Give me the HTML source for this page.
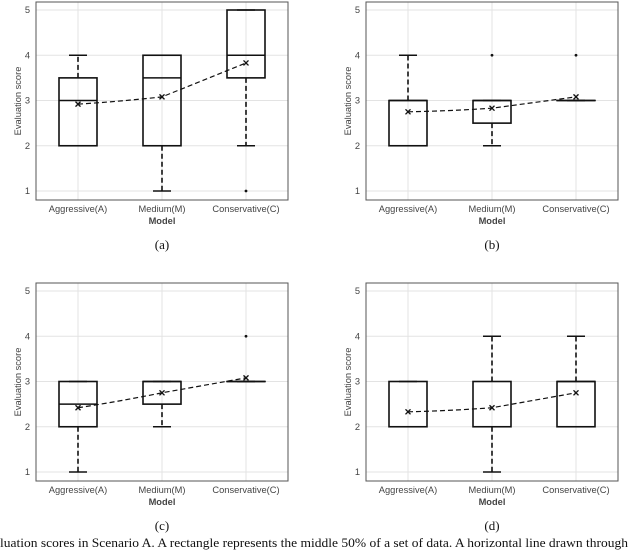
<!DOCTYPE html>
<html><head><meta charset="utf-8"><style>
html,body{margin:0;padding:0;background:#fff;width:640px;height:552px;overflow:hidden}
svg{display:block}
.t{font-family:"Liberation Sans",sans-serif;font-size:9.3px;fill:#444}
.cap{font-family:"Liberation Serif",serif;font-size:13px;fill:#111}
</style></head><body>
<svg id="fig" width="640" height="552"></svg>
<script>
const categories=["Aggressive(A)","Medium(M)","Conservative(C)"];
const yTicks=[1,2,3,4,5];
const captions=["(a)","(b)","(c)","(d)"];
// per panel: [lowWhisker, q1, median, q3, highWhisker] per category
const boxesA=[[2,2,3,3.5,4],[1,2,3.5,4,4],[2,3.5,4,5,5]];
const boxesB=[[2,2,3,3,4],[2,2.5,3,3,3],[3,3,3,3,3]];
const boxesC=[[1,2,2.5,3,3],[2,2.5,3,3,3],[3,3,3,3,3]];
const boxesD=[[2,2,2,3,3],[1,2,2,3,4],[2,2,3,3,4]];
const outliersA=[[],[],[1]];
const outliersB=[[],[4],[4]];
const outliersC=[[],[],[4]];
const outliersD=[[],[],[]];
const meansA=[2.92,3.08,3.83];
const meansB=[2.75,2.83,3.08];
const meansC=[2.42,2.75,3.08];
const meansD=[2.33,2.42,2.75];
const panels=[[boxesA,outliersA,meansA],[boxesB,outliersB,meansB],[boxesC,outliersC,meansC],[boxesD,outliersD,meansD]];

const NS="http://www.w3.org/2000/svg";
const svg=document.getElementById('fig');
function mk(tag,attrs,parent){const e=document.createElementNS(NS,tag);for(const k in attrs)e.setAttribute(k,attrs[k]);(parent||svg).appendChild(e);return e;}

panels.forEach((p,pi)=>{
  const ox=(pi%2)*330, oy=Math.floor(pi/2)*281;
  const L=36+ox, R=288+ox, y5=10+oy, y1=191+oy, T=y5-8, B=y1+9;
  const ys=v=>y1-(v-1)*(y1-y5)/4;
  const xs=i=>L+42+i*84;
  const g=mk('g',{});
  
  
  yTicks.forEach(v=>{
    const l=mk('line',{x1:L,x2:R,y1:ys(v),y2:ys(v),stroke:'#e3e3e3','stroke-width':1},g);
    
    const t=mk('text',{x:L-6,y:ys(v)+3,'text-anchor':'end',class:'t'},g);t.textContent=v;
    
  });
  categories.forEach((c,i)=>{
    const l=mk('line',{x1:xs(i),x2:xs(i),y1:T,y2:B,stroke:'#e3e3e3','stroke-width':1},g);
    
    const t=mk('text',{x:xs(i),y:B+12,'text-anchor':'middle',class:'t'},g);t.textContent=c;
    
  });
  const fr=mk('rect',{x:L,y:T,width:R-L,height:B-T,fill:'none',stroke:'#555','stroke-width':1},g);
  
  const yl=mk('text',{x:0,y:0,'text-anchor':'middle',class:'t',transform:`translate(${L-15},${(T+B)/2}) rotate(-90)`},g);
  yl.textContent='Evaluation score';
  const xl=mk('text',{x:(L+R)/2,y:B+24,'text-anchor':'middle',class:'t','font-weight':'bold',fill:'#333'},g);
  xl.textContent='Model';
  const cp=mk('text',{x:(L+R)/2,y:B+49,'text-anchor':'middle',class:'cap'},g);
  cp.textContent=captions[pi];
  const [bx,outs,means]=p;
  bx.forEach((b,i)=>{
    const x=xs(i);
    const [lw,q1,md,q3,hw]=b;
    const bg=mk('g',{stroke:'#111','stroke-width':1.6,fill:'none'},g);
    
    if(hw>q3){mk('line',{x1:x,x2:x,y1:ys(q3),y2:ys(hw),'stroke-dasharray':'5,3'},bg);}
    if(lw<q1){mk('line',{x1:x,x2:x,y1:ys(q1),y2:ys(lw),'stroke-dasharray':'5,3'},bg);}
    mk('line',{x1:x-9,x2:x+9,y1:ys(hw),y2:ys(hw)},bg);
    mk('line',{x1:x-9,x2:x+9,y1:ys(lw),y2:ys(lw)},bg);
    mk('rect',{x:x-19,y:ys(q3),width:38,height:Math.max(0.01,ys(q1)-ys(q3))},bg);
    mk('line',{x1:x-19,x2:x+19,y1:ys(md),y2:ys(md)},bg);
    outs[i].forEach(o=>{
      const c=mk('circle',{cx:x,cy:ys(o),r:1.4,fill:'#111',stroke:'none'},g);
      
    });
  });
  const pts=means.map((m,i)=>[xs(i),ys(m)]);
  const path=`M${pts[0][0]},${pts[0][1]} Q${(pts[0][0]+pts[1][0])/2},${(pts[0][1]+pts[1][1])/2+1} ${pts[1][0]},${pts[1][1]} L${pts[2][0]},${pts[2][1]}`;
  const ml=mk('path',{d:path,fill:'none',stroke:'#111','stroke-width':1.2,'stroke-dasharray':'5,3'},g);
  
  pts.forEach(([x,y])=>{
    const mg=mk('g',{stroke:'#111','stroke-width':1.3},g);
    
    mk('line',{x1:x-2.5,x2:x+2.5,y1:y-2.5,y2:y+2.5},mg);
    mk('line',{x1:x-2.5,x2:x+2.5,y1:y+2.5,y2:y-2.5},mg);
  });
});
const ft=mk('text',{x:0,y:547,class:'cap',textLength:628,lengthAdjust:'spacingAndGlyphs'});
ft.textContent='luation scores in Scenario A. A rectangle represents the middle 50% of a set of data. A horizontal line drawn through';

</script>
</body></html>
